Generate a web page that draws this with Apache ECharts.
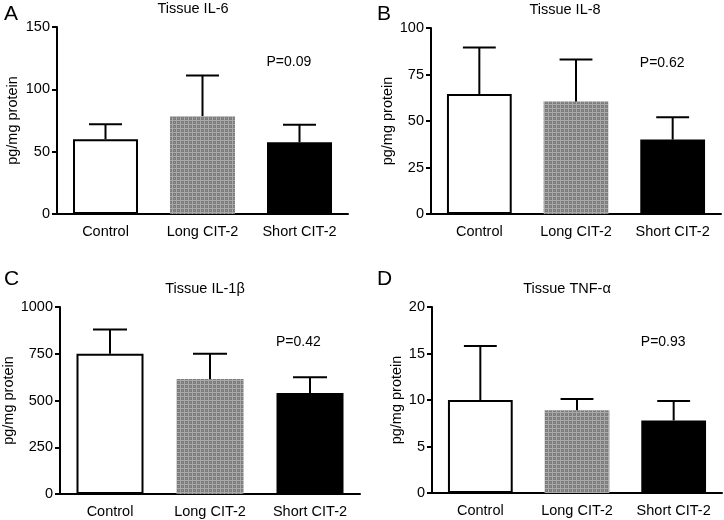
<!DOCTYPE html>
<html>
<head>
  <meta charset="UTF-8">
  <title>Tissue cytokines</title>
  <style>
    * { margin: 0; padding: 0; }
    html, body { width: 724px; height: 520px; background: #fff; }
    #chart { width: 724px; height: 520px; }
  </style>
</head>
<body>
  <div id="chart"></div>
  <script src="https://cdn.jsdelivr.net/npm/echarts@6/dist/echarts.min.js"></script>
  <script>
    // data
    const groups = ['Control', 'Long CIT-2', 'Short CIT-2'];
    const panelLetters = ['A', 'B', 'C', 'D'];
    const panelTitles = ['Tissue IL-6', 'Tissue IL-8', 'Tissue IL-1β', 'Tissue TNF-α'];
    const pValues = ['P=0.09', 'P=0.62', 'P=0.42', 'P=0.93'];
    const yMax = [150, 100, 1000, 20];
    const yStep = [50, 25, 250, 5];

    const il6Mean = [60, 78.5, 57.5];
    const il6Upper = [72, 111, 71.5];
    const il8Mean = [64.5, 60.5, 40];
    const il8Upper = [89.5, 83, 52];
    const il1bMean = [750, 615, 540];
    const il1bUpper = [880, 750, 625];
    const tnfMean = [10, 8.9, 7.8];
    const tnfUpper = [15.8, 10.1, 9.9];

    const means = [il6Mean, il8Mean, il1bMean, tnfMean];
    const uppers = [il6Upper, il8Upper, il1bUpper, tnfUpper];

    // layout of the four panels
    const grids = [
      { left: 57, top: 27, width: 291, height: 187 },
      { left: 431, top: 28, width: 290, height: 186 },
      { left: 60, top: 307, width: 300, height: 187 },
      { left: 432, top: 307, width: 290, height: 186 }
    ];
    const nameGaps = [37, 34, 40, 27];
    const titleCenters = [193, 565, 205, 567];
    const letterPos = [[4, 4], [377, 4], [4, 269], [377, 269]];

    // grey checkered fill for the middle bar
    const pat = document.createElement('canvas');
    pat.width = 4; pat.height = 4;
    const pc = pat.getContext('2d');
    pc.fillStyle = '#7c7c7c';
    pc.fillRect(0, 0, 4, 4);
    pc.fillStyle = '#aaaaaa';
    pc.fillRect(0, 0, 4, 1);
    pc.fillRect(0, 0, 1, 4);
    pc.fillStyle = '#929292';
    pc.fillRect(2, 2, 1, 1);

    const barStyles = [
      { color: '#ffffff', borderColor: '#000', borderWidth: 2 },
      { color: { image: pat, repeat: 'repeat' }, borderWidth: 0 },
      { color: '#000000', borderColor: '#000', borderWidth: 2 }
    ];

    const font = 'Liberation Sans, Arial, Helvetica, sans-serif';
    const chart = echarts.init(document.getElementById('chart'), null, { renderer: 'canvas' });

    const xAxis = [], yAxis = [], series = [], texts = [];

    grids.forEach((g, k) => {
      xAxis.push({
        type: 'category', gridIndex: k, data: groups,
        axisLine: { lineStyle: { color: '#000', width: 2 } },
        axisTick: { alignWithLabel: true, length: 6, lineStyle: { color: '#000', width: 2 } },
        axisLabel: { color: '#000', fontSize: 14.5, fontFamily: font, margin: 10,
          interval: 0, hideOverlap: false }
      });
      yAxis.push({
        type: 'value', gridIndex: k, min: 0, max: yMax[k], interval: yStep[k],
        name: 'pg/mg protein', nameLocation: 'middle', nameGap: nameGaps[k],
        nameTextStyle: { color: '#000', fontSize: 14.5, fontFamily: font },
        splitLine: { show: false },
        axisLine: { show: true, lineStyle: { color: '#000', width: 2 } },
        axisTick: { show: true, length: 5, lineStyle: { color: '#000', width: 2 } },
        axisLabel: { color: '#000', fontSize: 14.5, fontFamily: font, margin: 7,
          formatter: v => String(v) }
      });
      series.push({
        type: 'bar', xAxisIndex: k, yAxisIndex: k,
        barWidth: '67%',
        data: means[k].map((v, i) => ({ value: v, itemStyle: barStyles[i] })),
        z: 2, silent: true
      });
      series.push({
        type: 'custom', xAxisIndex: k, yAxisIndex: k, z: 3, silent: true,
        data: means[k].map((v, i) => [i, v, uppers[k][i]]),
        renderItem: (params, api) => {
          const base = api.coord([api.value(0), api.value(1)]);
          const top = api.coord([api.value(0), api.value(2)]);
          const half = api.size([1, 0])[0] * 0.17;
          const st = { stroke: '#000', lineWidth: 2 };
          return {
            type: 'group',
            children: [
              { type: 'line', shape: { x1: base[0], y1: base[1], x2: top[0], y2: top[1] }, style: st },
              { type: 'line', shape: { x1: top[0] - half, y1: top[1], x2: top[0] + half, y2: top[1] }, style: st }
            ]
          };
        }
      });
      texts.push({
        type: 'text', x: titleCenters[k], y: g.top - 18,
        style: { text: panelTitles[k], fontSize: 14.5, fill: '#000', fontFamily: font,
          align: 'center', verticalAlign: 'middle' }
      });
      texts.push({
        type: 'text', x: letterPos[k][0], y: letterPos[k][1],
        style: { text: panelLetters[k], fontSize: 21, fill: '#000', fontFamily: font }
      });
      texts.push({
        type: 'text', left: g.left + g.width * 0.72, top: g.top + 28,
        style: { text: pValues[k], fontSize: 14, fill: '#000', fontFamily: font }
      });
    });

    chart.setOption({
      animation: false,
      grid: grids.map(g => Object.assign({ containLabel: false }, g)),
      xAxis: xAxis,
      yAxis: yAxis,
      series: series,
      graphic: texts
    });
  </script>
</body>
</html>
